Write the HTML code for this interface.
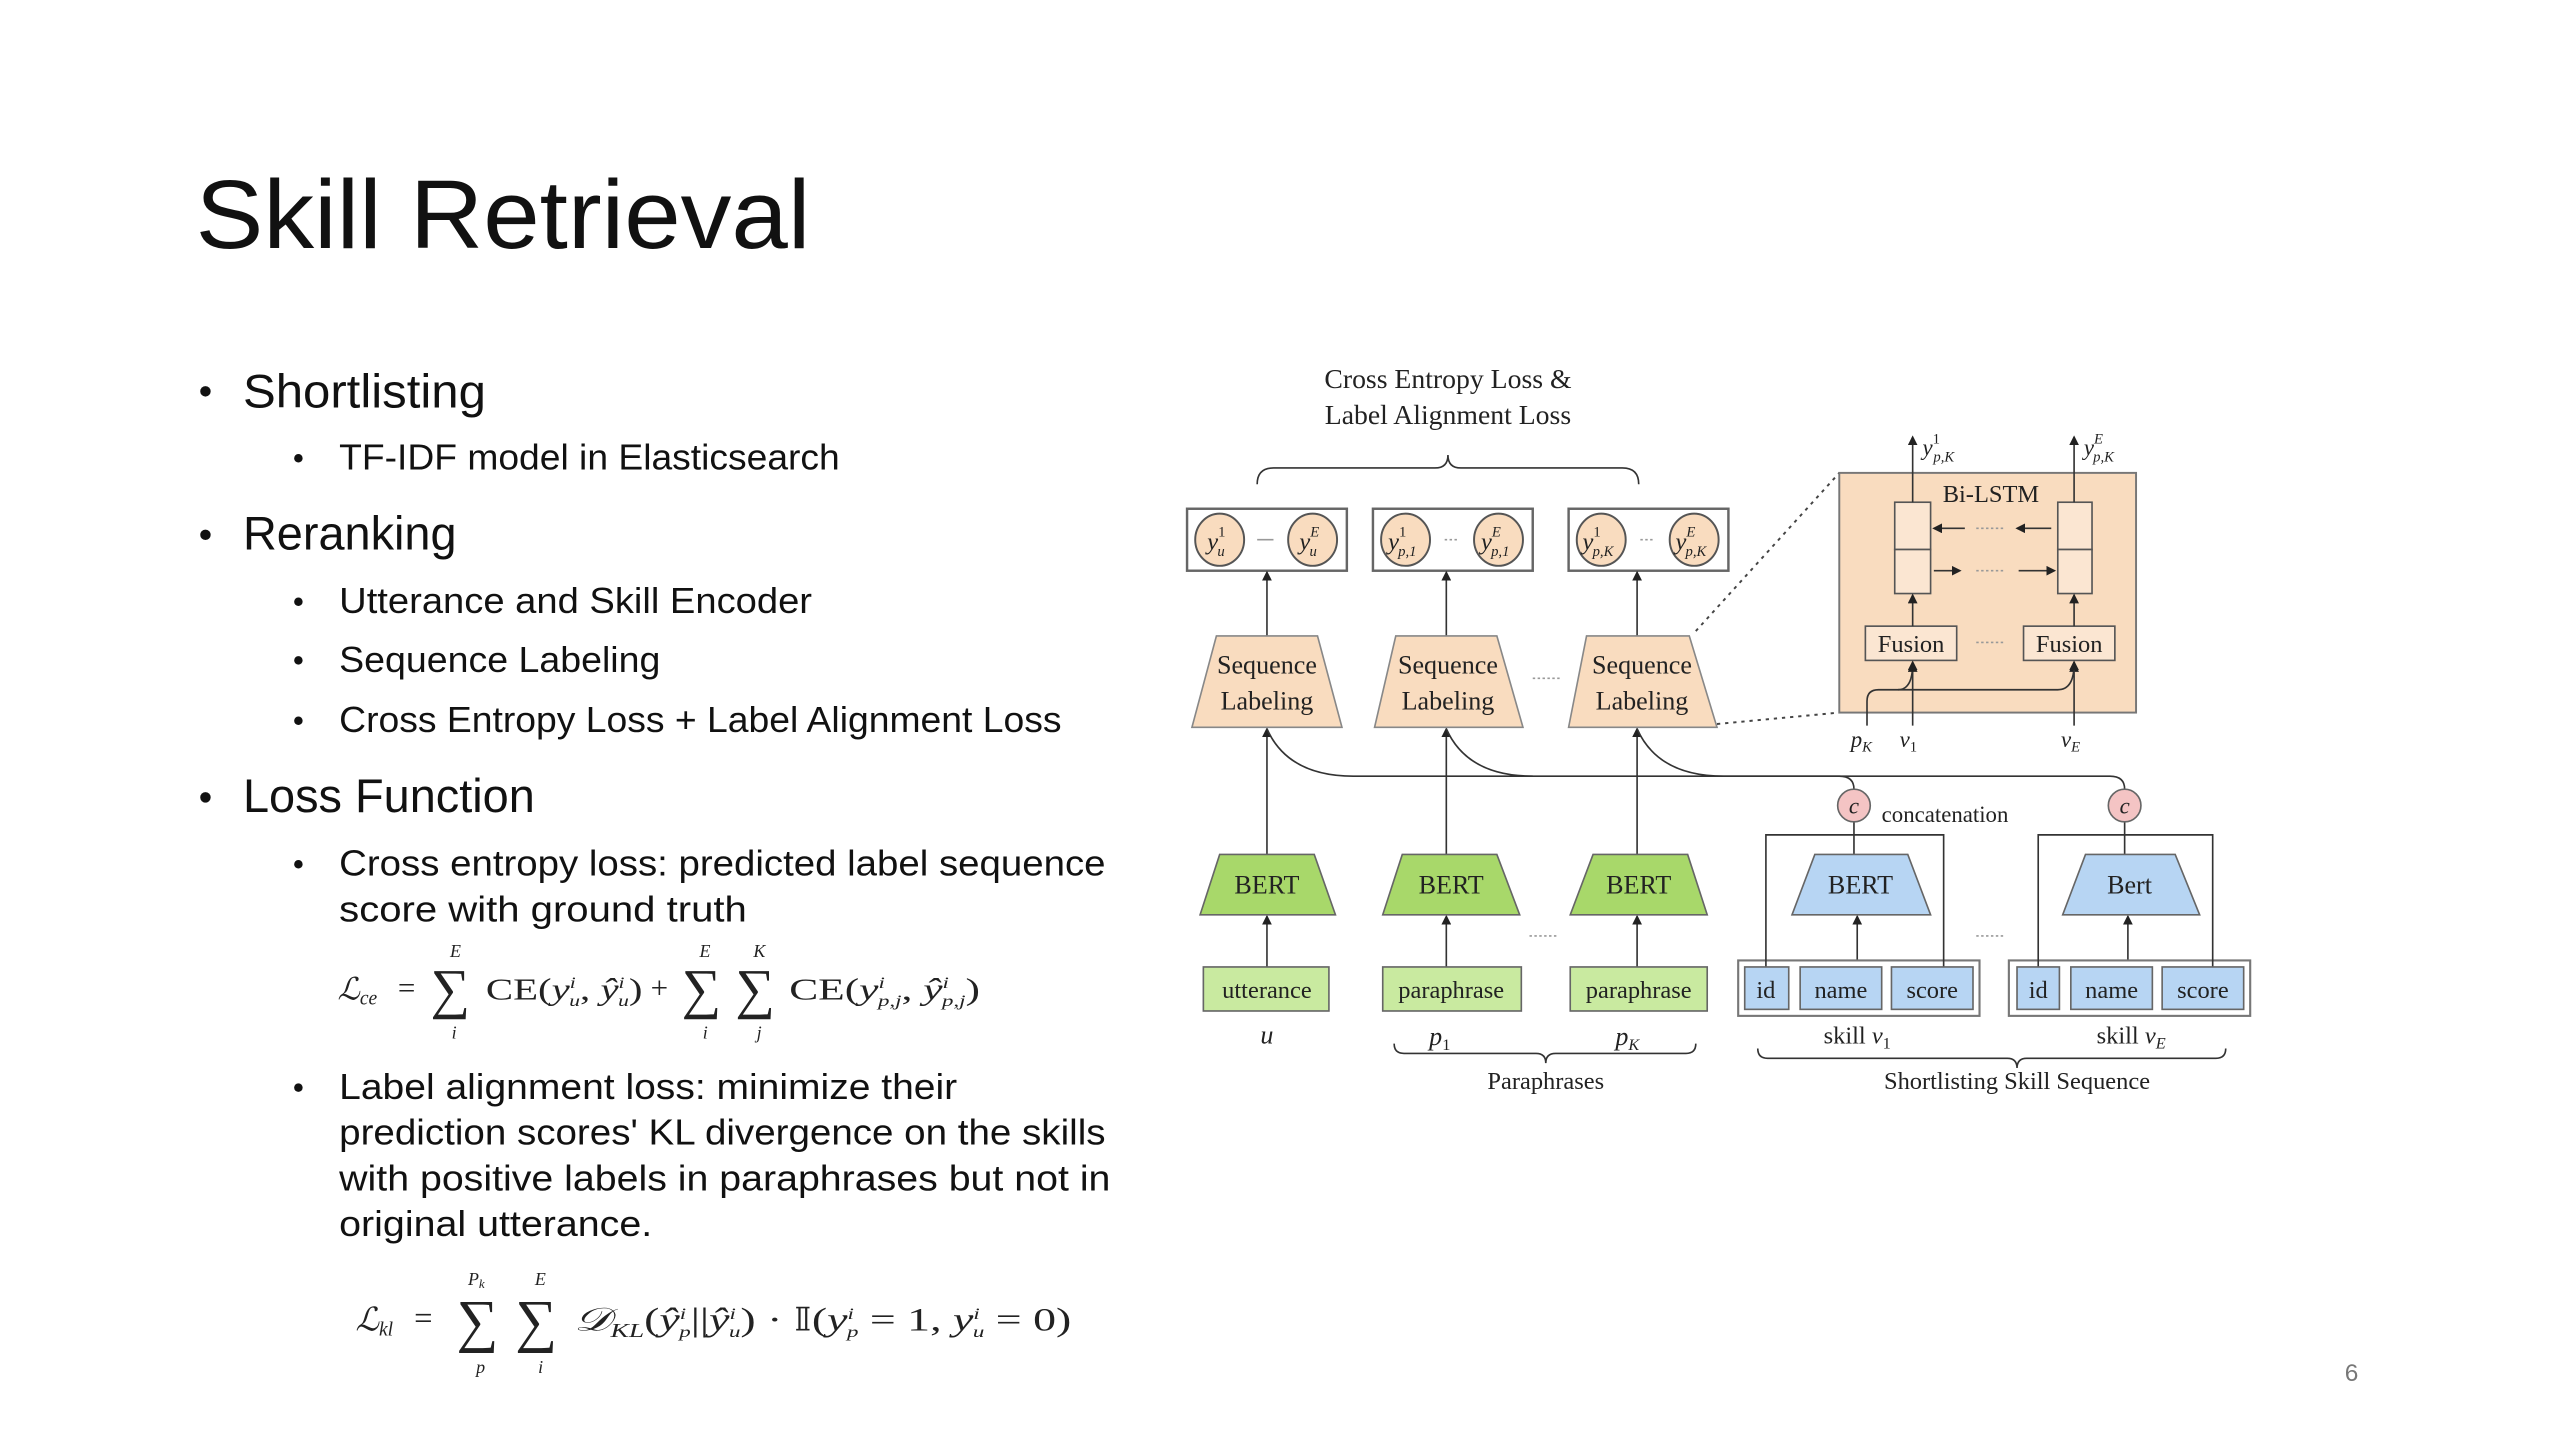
<!DOCTYPE html>
<html><head><meta charset="utf-8"><style>
html,body{margin:0;padding:0;background:#fff;width:2560px;height:1440px;overflow:hidden}
svg{display:block}
.t{font-family:"Liberation Sans",sans-serif;fill:#111}
.s{font-family:"Liberation Serif",serif;fill:#222}
.i{font-style:italic}
.ln{stroke:#333;stroke-width:1;fill:none}
</style></head><body>
<svg width="2560" height="1440" viewBox="0 0 1570 883.1" preserveAspectRatio="none">
<defs>
<marker id="a" markerWidth="6" markerHeight="6" refX="5" refY="3" orient="auto" markerUnits="userSpaceOnUse"><path d="M0,0 L6,3 L0,6 z" fill="#222"/></marker>
</defs>
<rect width="1570" height="884" fill="#fff"/>
<text class="t" x="120" y="152" font-size="60" textLength="377" lengthAdjust="spacingAndGlyphs">Skill Retrieval</text>
<g class="t">
<circle cx="126" cy="240" r="3.2" fill="#111"/>
<text x="149" y="250" font-size="29" textLength="149" lengthAdjust="spacingAndGlyphs">Shortlisting</text>
<circle cx="183" cy="281" r="2.6" fill="#111"/>
<text x="208" y="288" font-size="22" textLength="307" lengthAdjust="spacingAndGlyphs">TF-IDF model in Elasticsearch</text>
<circle cx="126" cy="328" r="3.2" fill="#111"/>
<text x="149" y="337" font-size="29" textLength="131" lengthAdjust="spacingAndGlyphs">Reranking</text>
<circle cx="183" cy="369" r="2.6" fill="#111"/>
<text x="208" y="376" font-size="22" textLength="290" lengthAdjust="spacingAndGlyphs">Utterance and Skill Encoder</text>
<circle cx="183" cy="405" r="2.6" fill="#111"/>
<text x="208" y="412" font-size="22" textLength="197" lengthAdjust="spacingAndGlyphs">Sequence Labeling</text>
<circle cx="183" cy="442" r="2.6" fill="#111"/>
<text x="208" y="449" font-size="22" textLength="443" lengthAdjust="spacingAndGlyphs">Cross Entropy Loss + Label Alignment Loss</text>
<circle cx="126" cy="489" r="3.2" fill="#111"/>
<text x="149" y="498" font-size="29" textLength="179" lengthAdjust="spacingAndGlyphs">Loss Function</text>
<circle cx="183" cy="530" r="2.6" fill="#111"/>
<text x="208" y="537" font-size="22" textLength="470" lengthAdjust="spacingAndGlyphs">Cross entropy loss: predicted label sequence</text>
<text x="208" y="565" font-size="22" textLength="250" lengthAdjust="spacingAndGlyphs">score with ground truth</text>
<circle cx="183" cy="667" r="2.6" fill="#111"/>
<text x="208" y="674" font-size="22" textLength="379" lengthAdjust="spacingAndGlyphs">Label alignment loss: minimize their</text>
<text x="208" y="702" font-size="22" textLength="470" lengthAdjust="spacingAndGlyphs">prediction scores' KL divergence on the skills</text>
<text x="208" y="730" font-size="22" textLength="473" lengthAdjust="spacingAndGlyphs">with positive labels in paraphrases but not in</text>
<text x="208" y="758" font-size="22" textLength="192" lengthAdjust="spacingAndGlyphs">original utterance.</text>
</g>
<g class="s" font-size="19">
<text x="207" y="613" class="i">ℒ<tspan font-size="12" dy="3">ce</tspan></text>
<text x="244" y="612">=</text>
<text x="264" y="618" font-size="34">∑</text>
<text x="276" y="587" font-size="11" class="i">E</text><text x="277" y="637" font-size="11" class="i">i</text>
<text x="298" y="613" textLength="96" lengthAdjust="spacingAndGlyphs">CE(<tspan class="i">y</tspan><tspan font-size="10" dy="-7" class="i">i</tspan><tspan font-size="10" dx="-3" dy="11" class="i">u</tspan><tspan dy="-4">, </tspan><tspan class="i">ŷ</tspan><tspan font-size="10" dy="-7" class="i">i</tspan><tspan font-size="10" dx="-3" dy="11" class="i">u</tspan><tspan dy="-4">)</tspan></text>
<text x="399" y="612">+</text>
<text x="418" y="618" font-size="34">∑</text>
<text x="429" y="587" font-size="11" class="i">E</text><text x="431" y="637" font-size="11" class="i">i</text>
<text x="451" y="618" font-size="34">∑</text>
<text x="462" y="587" font-size="11" class="i">K</text><text x="464" y="637" font-size="11" class="i">j</text>
<text x="484" y="613" textLength="117" lengthAdjust="spacingAndGlyphs">CE(<tspan class="i">y</tspan><tspan font-size="10" dy="-7" class="i">i</tspan><tspan font-size="10" dx="-3" dy="11" class="i">p,j</tspan><tspan dy="-4">, </tspan><tspan class="i">ŷ</tspan><tspan font-size="10" dy="-7" class="i">i</tspan><tspan font-size="10" dx="-3" dy="11" class="i">p,j</tspan><tspan dy="-4">)</tspan></text>
</g>
<g class="s" font-size="20">
<text x="218" y="816" class="i">ℒ<tspan font-size="12" dy="3">kl</tspan></text>
<text x="254" y="815">=</text>
<text x="280" y="822" font-size="36">∑</text>
<text x="287" y="788" font-size="11" class="i">P<tspan font-size="8" dy="2">k</tspan></text><text x="292" y="842" font-size="11" class="i">p</text>
<text x="316" y="822" font-size="36">∑</text>
<text x="328" y="788" font-size="11" class="i">E</text><text x="330" y="842" font-size="11" class="i">i</text>
<text x="352" y="816" textLength="305" lengthAdjust="spacingAndGlyphs"><tspan class="i">𝒟</tspan><tspan font-size="12" dy="4" class="i">KL</tspan><tspan dy="-4">(</tspan><tspan class="i">ŷ</tspan><tspan font-size="10" dy="-7" class="i">i</tspan><tspan font-size="10" dx="-3" dy="11" class="i">p</tspan><tspan dy="-4">||</tspan><tspan class="i">ŷ</tspan><tspan font-size="10" dy="-7" class="i">i</tspan><tspan font-size="10" dx="-3" dy="11" class="i">u</tspan><tspan dy="-4">) · 𝕀(</tspan><tspan class="i">y</tspan><tspan font-size="10" dy="-7" class="i">i</tspan><tspan font-size="10" dx="-3" dy="11" class="i">p</tspan><tspan dy="-4"> = 1, </tspan><tspan class="i">y</tspan><tspan font-size="10" dy="-7" class="i">i</tspan><tspan font-size="10" dx="-3" dy="11" class="i">u</tspan><tspan dy="-4"> = 0)</tspan></text>
</g>
<text class="t" x="1438" y="847" font-size="15" style="fill:#777">6</text>

<g class="s" font-size="17" text-anchor="middle">
<text x="888" y="238">Cross Entropy Loss &amp;</text>
<text x="888" y="260">Label Alignment Loss</text>
</g>
<path class="ln" d="M771,297 Q771,287 781,287 L880,287 Q888,287 888,279 Q888,287 896,287 L995,287 Q1005,287 1005,297"/>
<g fill="#fff" stroke="#666" stroke-width="1.5">
<rect x="728" y="312" width="98" height="38"/>
<rect x="842" y="312" width="98" height="38"/>
<rect x="962" y="312" width="98" height="38"/>
</g>
<g fill="#f9dcbf" stroke="#555" stroke-width="1.2">
<ellipse cx="748" cy="331" rx="15" ry="16"/><ellipse cx="805" cy="331" rx="15" ry="16"/>
<ellipse cx="862" cy="331" rx="15" ry="16"/><ellipse cx="919" cy="331" rx="15" ry="16"/>
<ellipse cx="982" cy="331" rx="15" ry="16"/><ellipse cx="1039" cy="331" rx="15" ry="16"/>
</g>
<g class="s i" font-size="15" text-anchor="middle">
<text x="746" y="337">y<tspan font-size="9" dy="-8" font-style="normal">1</tspan><tspan font-size="9" dx="-5" dy="12">u</tspan></text>
<text x="803" y="337">y<tspan font-size="9" dy="-8">E</tspan><tspan font-size="9" dx="-6" dy="12">u</tspan></text>
<text x="860" y="337">y<tspan font-size="9" dy="-8" font-style="normal">1</tspan><tspan font-size="9" dx="-5" dy="12">p,1</tspan></text>
<text x="917" y="337">y<tspan font-size="9" dy="-8">E</tspan><tspan font-size="9" dx="-6" dy="12">p,1</tspan></text>
<text x="980" y="337">y<tspan font-size="9" dy="-8" font-style="normal">1</tspan><tspan font-size="9" dx="-5" dy="12">p,K</tspan></text>
<text x="1037" y="337">y<tspan font-size="9" dy="-8">E</tspan><tspan font-size="9" dx="-6" dy="12">p,K</tspan></text>
</g>
<g stroke="#999" stroke-width="1"><line x1="771" y1="331" x2="781" y2="331"/><line x1="886" y1="331" x2="895" y2="331" stroke-dasharray="1.5 1.5"/><line x1="1006" y1="331" x2="1015" y2="331" stroke-dasharray="1.5 1.5"/></g>
<g class="ln" marker-end="url(#a)">
<line x1="777" y1="390" x2="777" y2="351"/><line x1="887" y1="390" x2="887" y2="351"/><line x1="1004" y1="390" x2="1004" y2="351"/>
<line x1="777" y1="524" x2="777" y2="447"/><line x1="887" y1="524" x2="887" y2="447"/><line x1="1004" y1="524" x2="1004" y2="447"/>
<line x1="777" y1="593" x2="777" y2="562"/><line x1="887" y1="593" x2="887" y2="562"/><line x1="1004" y1="593" x2="1004" y2="562"/>
<line x1="1139" y1="593" x2="1139" y2="562"/><line x1="1305" y1="593" x2="1305" y2="562"/>
</g>
<g fill="#f9dcbf" stroke="#888" stroke-width="1">
<polygon points="746,390 808,390 823,446 731,446"/>
<polygon points="856,390 918,390 934,446 843,446"/>
<polygon points="973,390 1036,390 1053,446 962,446"/>
</g>
<g class="s" font-size="16" text-anchor="middle">
<text x="777" y="413">Sequence</text><text x="777" y="435">Labeling</text>
<text x="888" y="413">Sequence</text><text x="888" y="435">Labeling</text>
<text x="1007" y="413">Sequence</text><text x="1007" y="435">Labeling</text>
</g>
<line x1="940" y1="416" x2="958" y2="416" stroke="#999" stroke-dasharray="1.5 1.5"/>
<path class="ln" d="M777,447 Q790,476 830,476 L1128,476 Q1137,476 1137,484"/>
<path class="ln" d="M887,447 Q900,476 940,476"/>
<path class="ln" d="M1004,447 Q1017,476 1057,476 L1294,476 Q1303,476 1303,484"/>
<g fill="#a8d86a" stroke="#666" stroke-width="1">
<polygon points="748,524 806,524 819,561 736,561"/>
<polygon points="860,524 918,524 932,561 848,561"/>
<polygon points="977,524 1035,524 1047,561 963,561"/>
</g>
<g fill="#c9eaa0" stroke="#666" stroke-width="1">
<rect x="738" y="593" width="77" height="27"/>
<rect x="848" y="593" width="85" height="27"/>
<rect x="963" y="593" width="84" height="27"/>
</g>
<g class="s" font-size="16" text-anchor="middle">
<text x="777" y="548">BERT</text><text x="890" y="548">BERT</text><text x="1005" y="548">BERT</text>
<text x="777" y="612" font-size="15">utterance</text><text x="890" y="612" font-size="15">paraphrase</text><text x="1005" y="612" font-size="15">paraphrase</text>
<text x="777" y="640" class="i">u</text>
<text x="883" y="641" class="i">p<tspan font-size="10" dy="3" font-style="normal">1</tspan></text>
<text x="998" y="641" class="i">p<tspan font-size="10" dy="3">K</tspan></text>
<text x="948" y="668" font-size="15">Paraphrases</text>
<text x="1139" y="640" font-size="15">skill <tspan class="i">v</tspan><tspan font-size="10" dy="3">1</tspan></text>
<text x="1307" y="640" font-size="15">skill <tspan class="i">v</tspan><tspan font-size="10" dy="3" class="i">E</tspan></text>
<text x="1237" y="668" font-size="15">Shortlisting Skill Sequence</text>
</g>
<line x1="938" y1="574" x2="956" y2="574" stroke="#999" stroke-dasharray="1.5 1.5"/>
<line x1="1212" y1="574" x2="1230" y2="574" stroke="#999" stroke-dasharray="1.5 1.5"/>
<path class="ln" d="M855,640 Q855,646 861,646 L942,646 Q948,646 948,652 Q948,646 954,646 L1034,646 Q1040,646 1040,640"/>
<path class="ln" d="M1078,643 Q1078,649 1084,649 L1231,649 Q1237,649 1237,655 Q1237,649 1243,649 L1359,649 Q1365,649 1365,643"/>
<g fill="#fff" stroke="#777" stroke-width="1.3">
<rect x="1066" y="589" width="148" height="34"/><rect x="1232" y="589" width="148" height="34"/>
</g>
<path class="ln" d="M1083,593 L1083,512 L1192,512 L1192,593 M1137,504 L1137,524"/>
<path class="ln" d="M1250,593 L1250,512 L1357,512 L1357,593 M1303,504 L1303,524"/>
<g fill="#b7d5f3" stroke="#666" stroke-width="1">
<rect x="1070" y="593" width="27" height="26"/><rect x="1104" y="593" width="50" height="26"/><rect x="1160" y="593" width="50" height="26"/>
<rect x="1237" y="593" width="26" height="26"/><rect x="1270" y="593" width="50" height="26"/><rect x="1326" y="593" width="50" height="26"/>
<polygon points="1113,524 1170,524 1184,561 1099,561"/>
<polygon points="1279,524 1334,524 1349,561 1265,561"/>
</g>
<g class="s" font-size="15" text-anchor="middle">
<text x="1083" y="612">id</text><text x="1129" y="612">name</text><text x="1185" y="612">score</text>
<text x="1250" y="612">id</text><text x="1295" y="612">name</text><text x="1351" y="612">score</text>
<text x="1141" y="548" font-size="16">BERT</text><text x="1306" y="548" font-size="16">Bert</text>
</g>
<g fill="#f4c4c4" stroke="#666" stroke-width="1"><circle cx="1137" cy="494" r="10"/><circle cx="1303" cy="494" r="10"/></g>
<g class="s i" font-size="14" text-anchor="middle"><text x="1137" y="499">c</text><text x="1303" y="499">c</text></g>
<text class="s" x="1154" y="504" font-size="14">concatenation</text>
<g stroke="#444" stroke-width="1.2" stroke-dasharray="2 3" fill="none"><line x1="1040" y1="387" x2="1128" y2="290"/><line x1="1053" y1="444" x2="1128" y2="437"/></g>
<rect x="1128" y="290" width="182" height="147" fill="#f9dcbf" stroke="#777" stroke-width="1.2"/>
<text class="s" x="1221" y="308" font-size="15" text-anchor="middle">Bi-LSTM</text>
<g fill="#fbe6d2" stroke="#555" stroke-width="1">
<rect x="1162" y="308" width="22" height="29"/><rect x="1162" y="337" width="22" height="27"/>
<rect x="1262" y="308" width="21" height="29"/><rect x="1262" y="337" width="21" height="27"/>
<rect x="1144" y="384" width="56" height="21"/><rect x="1241" y="384" width="56" height="21"/>
</g>
<g class="s" font-size="15" text-anchor="middle"><text x="1172" y="400">Fusion</text><text x="1269" y="400">Fusion</text></g>
<g class="ln" marker-end="url(#a)">
<line x1="1173" y1="308" x2="1173" y2="268"/><line x1="1272" y1="308" x2="1272" y2="268"/>
<line x1="1205" y1="324" x2="1186" y2="324"/><line x1="1258" y1="324" x2="1237" y2="324"/>
<line x1="1186" y1="350" x2="1202" y2="350"/><line x1="1238" y1="350" x2="1260" y2="350"/>
<line x1="1173" y1="384" x2="1173" y2="365"/><line x1="1272" y1="384" x2="1272" y2="365"/>
<line x1="1173" y1="445" x2="1173" y2="406"/>
<path d="M1145,445 L1145,430 Q1145,423 1152,423 L1164,423 Q1173,423 1173,407" fill="none"/>
<path d="M1164,423 L1262,423 Q1272,423 1272,407" fill="none"/>
<line x1="1272" y1="445" x2="1272" y2="406"/>
</g>
<g stroke="#999" stroke-dasharray="1.5 1.5"><line x1="1212" y1="324" x2="1230" y2="324"/><line x1="1212" y1="350" x2="1230" y2="350"/><line x1="1212" y1="394" x2="1230" y2="394"/></g>
<g class="s i" font-size="14">
<text x="1179" y="279">y<tspan font-size="9" dy="-7" font-style="normal">1</tspan><tspan font-size="9" dx="-4" dy="11">p,K</tspan></text>
<text x="1278" y="279">y<tspan font-size="9" dy="-7">E</tspan><tspan font-size="9" dx="-6" dy="11">p,K</tspan></text>
<text x="1135" y="458">p<tspan font-size="9" dy="3">K</tspan></text>
<text x="1165" y="458">v<tspan font-size="9" dy="3" font-style="normal">1</tspan></text>
<text x="1264" y="458">v<tspan font-size="9" dy="3">E</tspan></text>
</g>
</svg>
</body></html>
